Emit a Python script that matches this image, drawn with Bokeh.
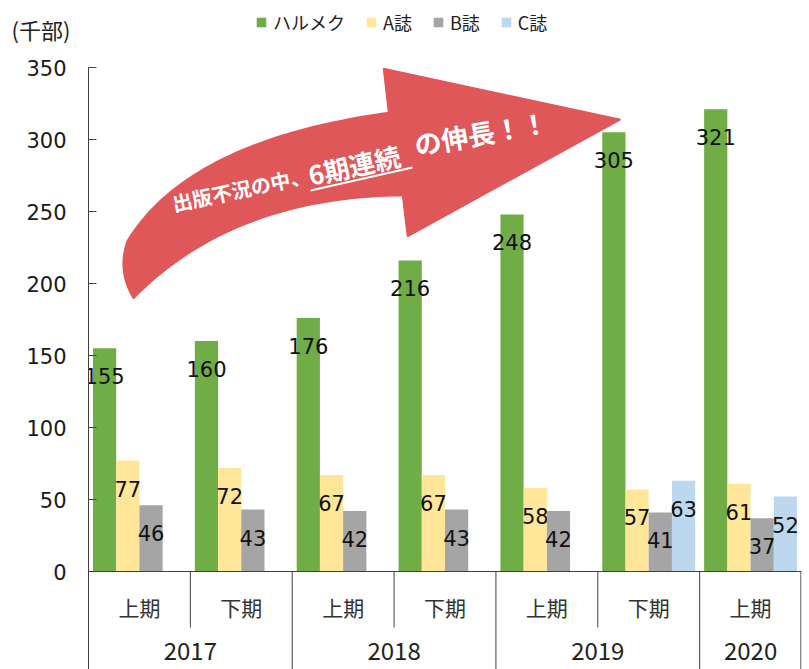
import math
from bokeh.plotting import figure
from bokeh.layouts import column
from bokeh.models import (FactorRange, Range1d, FixedTicker, Legend, LegendItem,
                          Label, Span, ColumnDataSource)
from bokeh.transform import dodge
from bokeh.core.properties import value
from bokeh.embed import file_html
from bokeh.resources import INLINE

# ---------------- data ----------------
years = ["2017", "2017", "2018", "2018", "2019", "2019", "2020"]
halves = ["上期", "下期", "上期", "下期", "上期", "下期", "上期"]
series_names = ["ハルメク", "A誌", "B誌", "C誌"]
harumeku = [155, 160, 176, 216, 248, 305, 321]
a_mag = [77, 72, 67, 67, 58, 57, 61]
b_mag = [46, 43, 42, 43, 42, 41, 37]
c_mag = [None, None, None, None, None, 63, 52]
y_ticks = [0, 50, 100, 150, 200, 250, 300, 350]
unit_label = "(千部)"
arrow_texts = ["出版不況の中、", "6期連続", "の伸長！！"]

# ---------------- style / layout ----------------
colors = ["#70AD47", "#FFE699", "#A5A5A5", "#BDD7EE"]
W, H = 809, 669
TOP_H = 50                      # strip holding the unit label and legend
MAIN_H = H - TOP_H
FL, FR = 88, 8
FRAME_TOP_PAGE = 67
FT = FRAME_TOP_PAGE - TOP_H
PX_PER_UNIT = 1.44
frame_w = W - FL - FR
frame_h = MAIN_H - FT
y_max = 350
y_min = -(frame_h - y_max * PX_PER_UNIT) / PX_PER_UNIT
n = len(years)
GROUP_PX = frame_w / n
PAGE_LEFT = FL
PAGE_ZERO = FRAME_TOP_PAGE + y_max * PX_PER_UNIT
JP = "Noto Sans CJK JP"
NUM = "DejaVu Sans"
AXIS_COLOR = "#404040"


def page_to_data(px, py):
    return (px - PAGE_LEFT) / GROUP_PX, (PAGE_ZERO - py) / PX_PER_UNIT


# ================= top strip: unit label + legend =================
top = figure(width=W, height=TOP_H, x_range=Range1d(0, W), y_range=Range1d(0, TOP_H),
             x_axis_location=None, y_axis_location=None, toolbar_location=None,
             output_backend="svg", min_border=0, outline_line_color=None,
             background_fill_color="white", border_fill_color="white",
             frame_align=False)
top.grid.visible = False
# legend keys: zero-height bars (invisible) that only carry the series colours
key_renderers = [top.vbar(x=[-100], top=[0], bottom=[0], width=1, fill_color=c, line_color=None)
                 for c in colors]
legend = Legend(items=[LegendItem(label=nm, renderers=[r]) for nm, r in zip(series_names, key_renderers)],
                orientation="horizontal", location=(255, 15),
                glyph_width=12, glyph_height=12, label_standoff=6, spacing=20,
                padding=0, margin=0, border_line_color=None, background_fill_alpha=0,
                label_text_font=JP, label_text_font_size="18px", label_text_color="#222222",
                label_height=12)
top.add_layout(legend)
top.add_layout(Label(x=11, y=TOP_H - 28, text=unit_label, text_align="left", text_baseline="middle",
                     text_font=JP, text_font_size="22px", text_color="#222222"))

# ================= main chart =================
factors = list(zip(years, halves))
xr = FactorRange(factors=factors, range_padding=0, group_padding=0,
                 subgroup_padding=0, factor_padding=0)

p = figure(width=W, height=MAIN_H, x_range=xr, y_range=Range1d(y_min, y_max),
           x_axis_location=None, y_axis_location="left",
           toolbar_location=None, output_backend="svg",
           min_border_left=FL, min_border_right=FR, min_border_top=FT,
           min_border_bottom=0, outline_line_color=None,
           background_fill_color="white", border_fill_color="white",
           frame_align=False)
p.grid.visible = False

ax = p.yaxis[0]
ax.ticker = FixedTicker(ticks=y_ticks)
ax.major_tick_in = 8
ax.major_tick_out = 0
ax.minor_tick_in = 0
ax.minor_tick_out = 0
ax.major_label_standoff = 22
ax.axis_line_color = AXIS_COLOR
ax.major_tick_line_color = AXIS_COLOR
ax.major_label_text_font = NUM
ax.major_label_text_font_size = "21px"
ax.major_label_text_color = "#1a1a1a"

# ---------------- decorative arrow ----------------
def bez(p0, c, p2, k=40):
    pts = []
    for i in range(k + 1):
        t = i / k
        a, b, d = (1 - t) ** 2, 2 * (1 - t) * t, t ** 2
        pts.append((a * p0[0] + b * c[0] + d * p2[0], a * p0[1] + b * c[1] + d * p2[1]))
    return pts

outline = []
outline += bez((127, 240), (188, 140), (388, 112))
outline += [(383, 68), (620, 119), (407, 236), (402, 195)]
outline += bez((402, 195), (232, 197), (133, 298))[1:]
outline += bez((133, 298), (116, 270), (127, 240))[1:-1]
arrow_pts = [page_to_data(x, y) for x, y in outline]
p.patch([q[0] for q in arrow_pts], [q[1] for q in arrow_pts],
        fill_color="#E0575A", line_color="#E0575A", line_width=1.5)

# ---------------- bars ----------------
src = ColumnDataSource(dict(
    x=factors,
    s0=harumeku, s1=a_mag, s2=b_mag,
    s3=[float("nan") if v is None else v for v in c_mag],
))
offsets = [-0.342, -0.114, 0.114, 0.342]
bar_w = 0.228
series_vals = [harumeku, a_mag, b_mag, c_mag]
for i, name in enumerate(series_names):
    p.vbar(x=dodge("x", offsets[i], range=p.x_range), top=f"s{i}", width=bar_w,
           source=src, fill_color=colors[i], line_color=None)
    vals = series_vals[i]
    idx = [j for j, v in enumerate(vals) if v is not None]
    lsrc = ColumnDataSource(dict(x=[factors[j] for j in idx],
                                 y=[vals[j] for j in idx],
                                 t=[str(vals[j]) for j in idx]))
    p.text(x=dodge("x", offsets[i], range=p.x_range), y="y", text="t", source=lsrc,
           y_offset=28, text_align="center", text_baseline="middle",
           text_font=value(NUM), text_font_size="21px", text_color="#111111")

# ---------------- category axis (drawn inside the frame) ----------------
p.add_layout(Span(location=0, dimension="width", line_color=AXIS_COLOR, line_width=1))
sep_x, sep_y1 = [], []
for i in range(1, n + 1):
    sep_x.append(i if i < n else n - 0.006)
    full = (i == n) or (years[i - 1] != years[i])
    sep_y1.append(y_min if full else -56 / PX_PER_UNIT)
p.segment(x0=sep_x, y0=[0] * len(sep_x), x1=sep_x, y1=sep_y1,
          line_color=AXIS_COLOR, line_width=1)

p.text(x=factors, y=[-35 / PX_PER_UNIT] * n,
       text=halves, text_align="center", text_baseline="middle",
       text_font=value(JP), text_font_size="21px", text_color="#333333")
uniq_years = list(dict.fromkeys(years))
p.text(x=uniq_years, y=[-79 / PX_PER_UNIT] * len(uniq_years), text=uniq_years,
       text_align="center", text_baseline="middle",
       text_font=value(JP), text_font_size="24px", text_color="#222222")

# ---------------- arrow texts ----------------
def add_label(txt, px, py, deg, size):
    x, y = page_to_data(px, py)
    p.add_layout(Label(x=x, y=y, text=txt, angle=math.radians(deg),
                       text_align="left", text_baseline="middle",
                       text_font=JP, text_font_size=size, text_font_style="bold",
                       text_color="white"))

add_label(arrow_texts[0], 172, 203, 12, "20px")
add_label(arrow_texts[1], 308, 174, 12.5, "26px")
add_label(arrow_texts[2], 414, 144, 10, "27px")
u0 = page_to_data(310, 190)
u1 = page_to_data(412, 167)
p.segment(x0=[u0[0]], y0=[u0[1]], x1=[u1[0]], y1=[u1[1]], line_color="white", line_width=2)

layout = column(top, p, spacing=0)
open("out.html", "w").write(file_html(layout, INLINE))
